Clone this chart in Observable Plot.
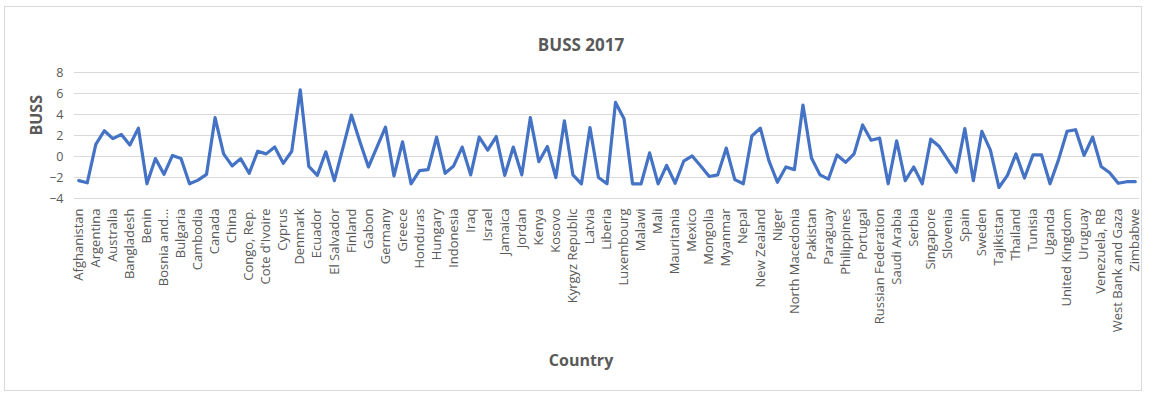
<!DOCTYPE html>
<html>
<head>
<meta charset="utf-8">
<script src="https://cdn.jsdelivr.net/npm/d3@7"></script>
<script src="https://cdn.jsdelivr.net/npm/@observablehq/plot@0.6"></script>
<style>
  html, body { margin: 0; padding: 0; background: #ffffff; }
  #chart { position: relative; width: 1151px; height: 396px; overflow: hidden; }
  #frame { position: absolute; left: 4px; top: 6px; width: 1138px; height: 385px;
           border: 1px solid #d9d9d9; box-sizing: border-box; pointer-events: none; }
  #chart svg { position: absolute; left: 0; top: 0; }
</style>
</head>
<body>
<div id="chart"><div id="frame"></div></div>
<script>
// Countries in axis order
const countries = [
  "Afghanistan", "Albania", "Argentina", "Armenia", "Australia", "Austria",
  "Bangladesh", "Belgium", "Benin", "Bolivia", "Bosnia and Herzegovina", "Brazil",
  "Bulgaria", "Burkina Faso", "Cambodia", "Cameroon", "Canada", "Chile",
  "China", "Colombia", "Congo, Rep.", "Costa Rica", "Cote d'Ivoire", "Croatia",
  "Cyprus", "Czech Republic", "Denmark", "Dominican Republic", "Ecuador", "Egypt, Arab Rep.",
  "El Salvador", "Estonia", "Finland", "France", "Gabon", "Georgia",
  "Germany", "Ghana", "Greece", "Guatemala", "Honduras", "Hong Kong SAR, China",
  "Hungary", "India", "Indonesia", "Iran, Islamic Rep.", "Iraq", "Ireland",
  "Israel", "Italy", "Jamaica", "Japan", "Jordan", "Kazakhstan",
  "Kenya", "Korea, Rep.", "Kosovo", "Kuwait", "Kyrgyz Republic", "Lao PDR",
  "Latvia", "Lebanon", "Liberia", "Lithuania", "Luxembourg", "Madagascar",
  "Malawi", "Malaysia", "Mali", "Malta", "Mauritania", "Mauritius",
  "Mexico", "Moldova", "Mongolia", "Morocco", "Myanmar", "Namibia",
  "Nepal", "Netherlands", "New Zealand", "Nicaragua", "Niger", "Nigeria",
  "North Macedonia", "Norway", "Pakistan", "Panama", "Paraguay", "Peru",
  "Philippines", "Poland", "Portugal", "Romania", "Russian Federation", "Rwanda",
  "Saudi Arabia", "Senegal", "Serbia", "Sierra Leone", "Singapore", "Slovak Republic",
  "Slovenia", "South Africa", "Spain", "Sri Lanka", "Sweden", "Switzerland",
  "Tajikistan", "Tanzania", "Thailand", "Togo", "Tunisia", "Turkey",
  "Uganda", "Ukraine", "United Kingdom", "United States", "Uruguay", "Uzbekistan",
  "Venezuela, RB", "Vietnam", "West Bank and Gaza", "Zambia", "Zimbabwe"
];

// BUSS score per country, 2017
const buss = [
  -2.3, -2.5, 1.15, 2.45, 1.7, 2.1,
  1.1, 2.7, -2.6, -0.2, -1.7, 0.1,
  -0.2, -2.6, -2.25, -1.7, 3.7, 0.25,
  -0.9, -0.2, -1.6, 0.5, 0.25, 0.9,
  -0.65, 0.5, 6.35, -0.95, -1.8, 0.45,
  -2.3, 0.8, 3.95, 1.4, -1.0, 0.9,
  2.8, -1.85, 1.4, -2.6, -1.35, -1.25,
  1.85, -1.6, -0.9, 0.9, -1.75, 1.85,
  0.6, 1.9, -1.8, 0.9, -1.75, 3.7,
  -0.5, 0.95, -2.0, 3.4, -1.75, -2.6,
  2.75, -2.0, -2.6, 5.15, 3.6, -2.6,
  -2.6, 0.35, -2.6, -0.85, -2.55, -0.45,
  0.05, -0.9, -1.9, -1.75, 0.8, -2.2,
  -2.6, 1.95, 2.7, -0.4, -2.45, -1.0,
  -1.25, 4.9, -0.15, -1.75, -2.15, 0.15,
  -0.55, 0.25, 3.0, 1.55, 1.75, -2.6,
  1.5, -2.3, -1.0, -2.6, 1.65, 0.95,
  -0.3, -1.5, 2.65, -2.3, 2.4, 0.6,
  -2.95, -1.8, 0.25, -2.05, 0.15, 0.15,
  -2.6, -0.3, 2.4, 2.55, 0.1, 1.85,
  -0.95, -1.55, -2.55, -2.4, -2.4
];

// Every other country carries a label on the category axis
const labelledCountries = countries.filter((d, i) => i % 2 === 0);
const tickLabels = labelledCountries.map(d => d === "Bosnia and Herzegovina" ? "Bosnia and..." : d);
const tickLabelOf = new Map(labelledCountries.map((d, i) => [d, tickLabels[i]]));

const yTicks = [-4, -2, 0, 2, 4, 6, 8];

const font = "'Open Sans', 'Liberation Sans', sans-serif";
const grey = "#595959";

const chart = Plot.plot({
  width: 1151,
  height: 396,
  marginLeft: 74,
  marginRight: 12,
  marginTop: 72,
  marginBottom: 198,
  style: { fontFamily: font, color: grey, background: "transparent" },
  x: { type: "point", domain: countries, padding: 0.5 },
  y: { domain: [-4, 8] },
  marks: [
    Plot.gridY(yTicks, { stroke: "#d9d9d9", strokeOpacity: 1, strokeWidth: 1 }),
    Plot.axisY(yTicks, { tickSize: 0, tickPadding: 11, fontSize: 12.5, label: null, fill: grey }),
    Plot.axisX(labelledCountries, {
      tickSize: 0, tickPadding: 10, tickRotate: -90, fontSize: 13,
      tickFormat: d => tickLabelOf.get(d), label: null, fill: grey
    }),
    Plot.lineY(buss, {
      x: (d, i) => countries[i], y: d => d,
      stroke: "#4472C4", strokeWidth: 3.2, strokeLinejoin: "round", strokeLinecap: "round"
    }),
    Plot.text(["BUSS 2017"], {
      frameAnchor: "top", dx: -26, dy: -34, fontSize: 17, fontWeight: "bold", fill: grey
    }),
    Plot.text(["Country"], {
      frameAnchor: "bottom", dx: -26, dy: 167, fontSize: 16, fontWeight: "bold", fill: grey
    }),
    Plot.text(["BUSS"], {
      frameAnchor: "left", dx: -38, rotate: -90, fontSize: 16, fontWeight: "bold", fill: grey
    })
  ]
});

document.getElementById("chart").appendChild(chart);
</script>
</body>
</html>
